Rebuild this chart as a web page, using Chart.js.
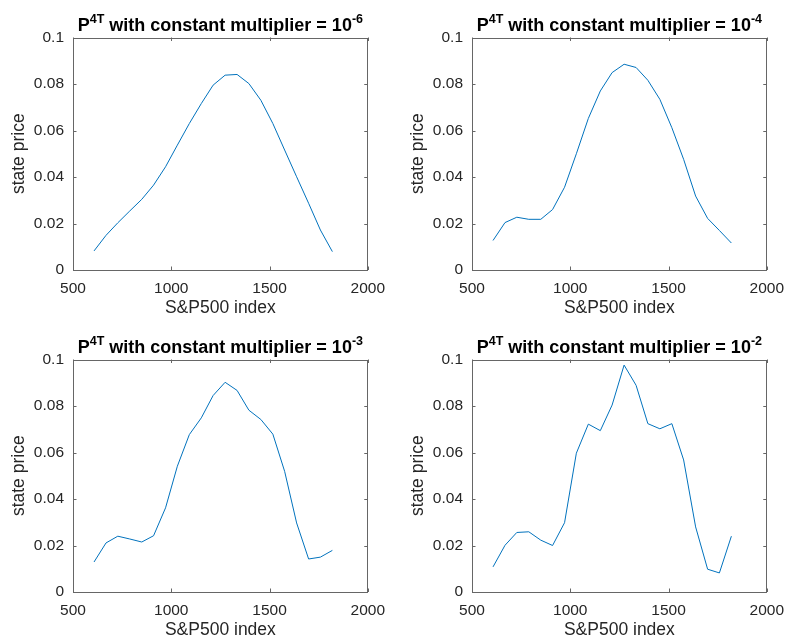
<!DOCTYPE html>
<html>
<head>
<meta charset="utf-8">
<script src="https://cdn.jsdelivr.net/npm/chart.js@4/dist/chart.umd.min.js"></script>
<style>
  html, body { margin: 0; padding: 0; background: #fff; overflow: hidden; }
  body { width: 789px; height: 641px; position: relative; }
  .panel { position: absolute; width: 394px; height: 320px; }
</style>
</head>
<body>
<div class="panel" style="left:0px;top:0px"><canvas id="c1" width="394" height="320"></canvas></div>
<div class="panel" style="left:399px;top:0px"><canvas id="c2" width="394" height="320"></canvas></div>
<div class="panel" style="left:0px;top:322px"><canvas id="c3" width="394" height="320"></canvas></div>
<div class="panel" style="left:399px;top:322px"><canvas id="c4" width="394" height="320"></canvas></div>
<script>
// S&P500 index levels (shared by all four panels)
const sp500Index = [607, 668, 728, 789, 850, 910, 971, 1031, 1092, 1153, 1213,
  1274, 1335, 1395, 1456, 1517, 1577, 1638, 1699, 1759, 1820];

// state prices for each constant multiplier
const statePrice1e6 = [0.0082, 0.0149, 0.0203, 0.0254, 0.0304, 0.0365, 0.0444, 0.0537, 0.0630, 0.0716, 0.0795,
  0.0838, 0.0841, 0.0802, 0.0730, 0.0630, 0.0516, 0.0401, 0.0287, 0.0172, 0.0079];
const statePrice1e4 = [0.0127, 0.0204, 0.0227, 0.0218, 0.0218, 0.0260, 0.0356, 0.0500, 0.0652, 0.0770, 0.0849,
  0.0885, 0.0871, 0.0816, 0.0734, 0.0612, 0.0476, 0.0318, 0.0222, 0.0170, 0.0116];
const statePrice1e3 = [0.0129, 0.0211, 0.0240, 0.0228, 0.0215, 0.0242, 0.0362, 0.0541, 0.0677, 0.0749, 0.0845,
  0.0902, 0.0867, 0.0782, 0.0742, 0.0679, 0.0519, 0.0297, 0.0142, 0.0150, 0.0179];
const statePrice1e2 = [0.0108, 0.0201, 0.0256, 0.0259, 0.0223, 0.0200, 0.0298, 0.0597, 0.0722, 0.0694, 0.0804,
  0.0976, 0.0889, 0.0724, 0.0702, 0.0724, 0.0568, 0.0280, 0.0098, 0.0082, 0.0240];

// exponents shown in the titles
const exponents = ['-6', '-4', '-3', '-2'];

// tick labels
const xTicks = [500, 1000, 1500, 2000];
const xTickLabels = ['500', '1000', '1500', '2000'];
const yTicks = [0, 0.02, 0.04, 0.06, 0.08, 0.1];
const yTickLabels = ['0', '0.02', '0.04', '0.06', '0.08', '0.1'];

const FONT = '"Liberation Sans", Arial, Helvetica, sans-serif';
const TEXT = '#262626';
const LINE = 'rgb(0, 114, 189)';

// MATLAB style box with inward ticks on all four sides
const boxPlugin = {
  id: 'boxPlugin',
  afterDraw(chart) {
    const { ctx, chartArea: a, scales } = chart;
    const len = 3.5;
    ctx.save();
    ctx.strokeStyle = '#666666';
    ctx.lineWidth = 1;
    ctx.strokeRect(Math.round(a.left) + 0.5, Math.round(a.top) + 0.5,
      Math.round(a.right - a.left) - 1, Math.round(a.bottom - a.top) - 1);
    ctx.beginPath();
    xTicks.forEach(v => {
      const px = Math.round(scales.x.getPixelForValue(v)) + 0.5;
      ctx.moveTo(px, a.bottom); ctx.lineTo(px, a.bottom - len);
      ctx.moveTo(px, a.top); ctx.lineTo(px, a.top + len);
    });
    yTicks.forEach(v => {
      const py = Math.round(scales.y.getPixelForValue(v)) + 0.5;
      ctx.moveTo(a.left, py); ctx.lineTo(a.left + len, py);
      ctx.moveTo(a.right, py); ctx.lineTo(a.right - len, py);
    });
    ctx.stroke();
    ctx.restore();
  }
};

// title with superscripts: P^4T with constant multiplier = 10^exp
const supTitle = {
  id: 'supTitle',
  afterDraw(chart, args, opts) {
    const { ctx, chartArea: a } = chart;
    const big = 'bold 18px ' + FONT;
    const small = 'bold 12.5px ' + FONT;
    const parts = [
      ['P', big, 0],
      ['4T', small, 8.5],
      [' with constant multiplier = 10', big, 0],
      [opts.exp, small, 8.5]
    ];
    ctx.save();
    let total = 0;
    parts.forEach(p => { ctx.font = p[1]; p.push(ctx.measureText(p[0]).width); total += p[3]; });
    let x = (a.left + a.right) / 2 - total / 2;
    const baseline = 31;
    ctx.fillStyle = '#000';
    ctx.textBaseline = 'alphabetic';
    ctx.textAlign = 'left';
    parts.forEach(p => {
      ctx.font = p[1];
      ctx.fillText(p[0], x, baseline - p[2]);
      x += p[3];
    });
    ctx.restore();
  }
};

function makeChart(id, values, exp) {
  new Chart(document.getElementById(id), {
    type: 'line',
    data: {
      datasets: [{
        data: sp500Index.map((x, i) => ({ x: x, y: values[i] })),
        borderColor: LINE,
        borderWidth: 1,
        pointRadius: 0,
        tension: 0,
        fill: false
      }]
    },
    options: {
      responsive: false,
      animation: false,
      devicePixelRatio: 1,
      layout: { padding: { left: 0, top: 37.5, right: 21, bottom: 0 } },
      plugins: {
        legend: { display: false },
        tooltip: { enabled: false },
        supTitle: { exp: exp }
      },
      scales: {
        x: {
          type: 'linear',
          min: 500, max: 2000,
          afterFit: s => { s.height = 50; },
          afterBuildTicks: s => { s.ticks = xTicks.map(v => ({ value: v })); },
          grid: { display: false, drawTicks: false },
          border: { display: false },
          ticks: {
            color: TEXT, font: { family: FONT, size: 15.5 }, padding: 9, maxRotation: 0,
            callback: (v, i) => xTickLabels[i]
          },
          title: { display: true, text: 'S&P500 index', color: TEXT,
            font: { family: FONT, size: 17.5 }, padding: { top: 0, bottom: 1 } }
        },
        y: {
          min: 0, max: 0.1,
          afterFit: s => { s.width = 73; },
          afterBuildTicks: s => { s.ticks = yTicks.map(v => ({ value: v })); },
          grid: { display: false, drawTicks: false },
          border: { display: false },
          ticks: {
            color: TEXT, font: { family: FONT, size: 15.5 }, padding: 9,
            callback: (v, i) => yTickLabels[i]
          },
          title: { display: true, text: 'state price', color: TEXT,
            font: { family: FONT, size: 17.5 }, padding: { top: 8.5, bottom: 0 } }
        }
      }
    },
    plugins: [boxPlugin, supTitle]
  });
}

makeChart('c1', statePrice1e6, exponents[0]);
makeChart('c2', statePrice1e4, exponents[1]);
makeChart('c3', statePrice1e3, exponents[2]);
makeChart('c4', statePrice1e2, exponents[3]);
</script>
</body>
</html>
